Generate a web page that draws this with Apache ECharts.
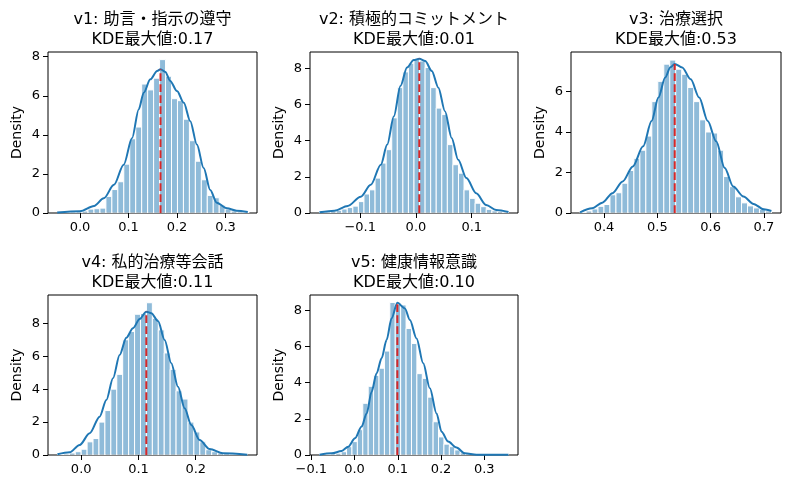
<!DOCTYPE html>
<html>
<head>
<meta charset="utf-8">
<script src="https://cdn.jsdelivr.net/npm/echarts@6/dist/echarts.min.js"></script>
<style>
html, body { margin: 0; padding: 0; background: #fff; }
#chart { width: 790px; height: 489px; }
</style>
</head>
<body>
<div id="chart"></div>
<script>
// panel texts
const titles = ['v1: 助言・指示の遵守', 'v2: 積極的コミットメント', 'v3: 治療選択', 'v4: 私的治療等会話', 'v5: 健康情報意識'];
const modeLabels = ['0.17', '0.01', '0.53', '0.11', '0.10'];

// KDE peak (red dashed line)
const modeX = [0.166, 0.006, 0.5326, 0.1137, 0.099];
const modeY = [7.36, 8.52, 7.36, 8.71, 8.42];

// histogram bins: first edge, bin width, densities
const binStart = [-0.045, -0.173, 0.355, -0.0415, -0.081];
const binWidth = [0.0123, 0.00997, 0.01122, 0.01036, 0.01251];

const hist1 = [0.02, 0.03, 0.05, 0.06, 0.1, 0.2, 0.22, 0.25, 0.85, 1.2, 1.6, 2.5, 3.8, 4.4, 6.6, 6.3,
  6.9, 7.85, 7.0, 5.85, 5.75, 4.8, 3.7, 2.65, 1.7, 0.9, 0.78, 0.4, 0.2, 0.1, 0.06, 0.03];
const hist2 = [0.04, 0.06, 0.1, 0.15, 0.22, 0.3, 0.38, 0.63, 1.05, 1.28, 1.93, 2.76, 3.5, 5.26, 6.93, 7.8,
  8.28, 8.48, 8.4, 8.04, 6.93, 5.8, 5.44, 3.78, 2.67, 2.2, 1.28, 0.81, 0.54, 0.35, 0.2, 0.12, 0.08, 0.06];
const hist3 = [0.03, 0.1, 0.2, 0.33, 0.42, 0.9, 1.0, 1.47, 2.1, 2.7, 3.1, 3.8, 5.5, 6.5, 7.35, 7.55,
  7.1, 6.85, 6.2, 5.5, 4.6, 4.0, 3.95, 3.1, 1.8, 1.3, 0.8, 0.5, 0.35, 0.25, 0.18, 0.1];
const hist4 = [0.03, 0.06, 0.12, 0.2, 0.35, 0.8, 1.0, 2.0, 2.7, 4.0, 4.9, 7.0, 7.5, 8.55, 8.6, 9.25,
  8.3, 7.6, 6.2, 5.2, 3.9, 3.4, 2.0, 1.4, 0.8, 0.32, 0.2, 0.12, 0.08, 0.05, 0.03, 0.02];
const hist5 = [0.02, 0.03, 0.06, 0.1, 0.18, 0.46, 0.74, 1.4, 2.86, 3.8, 4.4, 4.8, 5.75, 8.44, 8.33, 8.3,
  7.0, 6.17, 4.5, 4.24, 3.2, 1.84, 1.0, 0.6, 0.46, 0.28, 0.12, 0.06, 0.03, 0.02, 0.02, 0.01, 0.01, 0.01, 0.01];

// KDE curves
const kde1 = [[-0.047, 0.02], [0, 0.09], [0.029, 0.36], [0.049, 0.75], [0.07, 1.44], [0.09, 2.47], [0.1075, 3.84],
  [0.121, 5.3], [0.1315, 6.16], [0.145, 6.84], [0.159, 7.27], [0.166, 7.36], [0.176, 7.22], [0.186, 6.76],
  [0.2, 6.24], [0.214, 5.64], [0.2274, 4.7], [0.241, 3.5], [0.255, 2.3], [0.2685, 1.18], [0.282, 0.53],
  [0.303, 0.24], [0.323, 0.12], [0.346, 0.05]];
const kde2 = [[-0.173, 0.04], [-0.146, 0.13], [-0.1225, 0.39], [-0.099, 0.9], [-0.081, 1.56], [-0.063, 2.67],
  [-0.0515, 3.78], [-0.0396, 5.35], [-0.0278, 7.02], [-0.016, 8.04], [-0.004, 8.46], [0.006, 8.52], [0.0166, 8.4],
  [0.0284, 7.85], [0.0402, 6.93], [0.052, 5.63], [0.064, 4.15], [0.0757, 2.94], [0.0905, 1.93], [0.108, 1.09],
  [0.126, 0.44], [0.1438, 0.17], [0.166, 0.06]];
const kde3 = [[0.355, 0.03], [0.3776, 0.23], [0.3967, 0.51], [0.4158, 0.98], [0.435, 1.56], [0.454, 2.3],
  [0.4733, 3.29], [0.4892, 4.54], [0.502, 5.7], [0.5147, 6.69], [0.5245, 7.2], [0.5326, 7.36], [0.5466, 7.19],
  [0.5626, 6.6], [0.5785, 5.7], [0.5945, 4.54], [0.6104, 3.54], [0.6264, 2.22], [0.6423, 1.31], [0.6615, 0.81],
  [0.6806, 0.45], [0.6997, 0.18], [0.714, 0.1]];
const kde4 = [[-0.0415, 0.04], [-0.0202, 0.16], [-0.0027, 0.61], [0.0148, 1.32], [0.0322, 2.33], [0.0439, 3.34],
  [0.0555, 4.66], [0.0671, 6.08], [0.0788, 7.13], [0.0904, 7.7], [0.1021, 8.26], [0.1137, 8.71], [0.1224, 8.61],
  [0.1341, 8.14], [0.1457, 6.99], [0.1573, 5.57], [0.169, 4.15], [0.1806, 2.84], [0.1923, 1.82], [0.2068, 0.91],
  [0.2243, 0.36], [0.2475, 0.1], [0.29, 0.02]];
const kde5 = [[-0.081, 0.02], [-0.053, 0.09], [-0.0299, 0.22], [-0.0145, 0.46], [0.001, 0.92], [0.0164, 1.57],
  [0.028, 2.3], [0.0395, 3.5], [0.051, 4.52], [0.0626, 5.35], [0.0741, 6.36], [0.0857, 7.56], [0.099, 8.42],
  [0.1165, 8.11], [0.128, 7.47], [0.1434, 6.45], [0.1588, 5.07], [0.1742, 3.69], [0.1896, 2.3], [0.2012, 1.29],
  [0.2165, 0.74], [0.2358, 0.41], [0.2551, 0.09], [0.282, 0.02], [0.356, 0.01]];

// axis ranges and tick labels
const xMin = [-0.066, -0.19, 0.338, -0.058, -0.103];
const xMax = [0.365, 0.183, 0.732, 0.307, 0.378];
const yMax = [8.24, 8.9, 7.95, 9.72, 8.85];
const xTicks = [[0, 0.1, 0.2, 0.3], [-0.1, 0, 0.1], [0.4, 0.5, 0.6, 0.7], [0, 0.1, 0.2], [-0.1, 0, 0.1, 0.2, 0.3]];
const yTicks = [[0, 2, 4, 6, 8], [0, 2, 4, 6, 8], [0, 2, 4, 6], [0, 2, 4, 6, 8], [0, 2, 4, 6, 8]];

const hists = [hist1, hist2, hist3, hist4, hist5];
const kdes = [kde1, kde2, kde3, kde4, kde5];

// subplot boxes (px)
const boxes = [
    { left: 48, top: 52, width: 209, height: 161 },
    { left: 310, top: 52, width: 208, height: 161 },
    { left: 571, top: 52, width: 210, height: 161 },
    { left: 48, top: 295, width: 209, height: 160 },
    { left: 310, top: 295, width: 208, height: 160 }
];

const FONT = '"DejaVu Sans", "Noto Sans CJK JP", sans-serif';
const fmtX = v => (v < 0 ? '\u2212' : '') + Math.abs(v).toFixed(1);

function histItem(params, api) {
    const p0 = api.coord([api.value(0), api.value(2)]);
    const p1 = api.coord([api.value(1), 0]);
    return {
        type: 'rect',
        shape: { x: p0[0], y: p0[1], width: p1[0] - p0[0], height: p1[1] - p0[1] },
        style: { fill: 'rgba(31,119,180,0.5)', stroke: '#fff', lineWidth: 1 }
    };
}

const grid = [], xAxis = [], yAxis = [], series = [], title = [];

boxes.forEach((b, i) => {
    grid.push(Object.assign({ show: true, borderColor: '#000', borderWidth: 1, backgroundColor: 'transparent' }, b));

    title.push({
        text: titles[i] + '\nKDE最大値:' + modeLabels[i],
        left: b.left + b.width / 2,
        top: b.top - 42,
        textAlign: 'center',
        padding: 0,
        textStyle: { fontFamily: FONT, fontSize: 16, fontWeight: 'normal', color: '#000', lineHeight: 20 }
    });

    xAxis.push({
        type: 'value', gridIndex: i, min: xMin[i], max: xMax[i],
        axisLine: { show: false, onZero: false },
        splitLine: { show: false },
        axisTick: { show: true, length: 5, lineStyle: { color: '#000', width: 1 }, customValues: xTicks[i] },
        axisLabel: { customValues: xTicks[i], formatter: fmtX, color: '#000', fontSize: 13, fontFamily: FONT, margin: 8 }
    });

    yAxis.push({
        type: 'value', gridIndex: i, min: 0, max: yMax[i],
        name: 'Density', nameLocation: 'middle', nameRotate: 90, nameGap: 24,
        nameTextStyle: { fontFamily: FONT, fontSize: 14, color: '#000' },
        axisLine: { show: false, onZero: false },
        splitLine: { show: false },
        axisTick: { show: true, length: 5, lineStyle: { color: '#000', width: 1 }, customValues: yTicks[i] },
        axisLabel: { customValues: yTicks[i], color: '#000', fontSize: 13, fontFamily: FONT, margin: 8 }
    });

    series.push({
        type: 'custom', xAxisIndex: i, yAxisIndex: i, silent: true, clip: true,
        renderItem: histItem,
        encode: { x: [0, 1], y: 2 },
        data: hists[i].map((h, k) => [binStart[i] + k * binWidth[i], binStart[i] + (k + 1) * binWidth[i], h])
    });

    series.push({
        type: 'line', xAxisIndex: i, yAxisIndex: i, silent: true,
        data: kdes[i], smooth: 0.3, smoothMonotone: 'x', showSymbol: false,
        lineStyle: { color: '#1f77b4', width: 2 }
    });

    series.push({
        type: 'line', xAxisIndex: i, yAxisIndex: i, silent: true,
        data: [[modeX[i], 0], [modeX[i], modeY[i]]], showSymbol: false,
        lineStyle: { color: '#d62728', width: 2, type: [7.7, 3.3] }
    });
});

const chart = echarts.init(document.getElementById('chart'), null, { renderer: 'canvas' });
chart.setOption({ animation: false, backgroundColor: '#fff', title, grid, xAxis, yAxis, series });
</script>
</body>
</html>
